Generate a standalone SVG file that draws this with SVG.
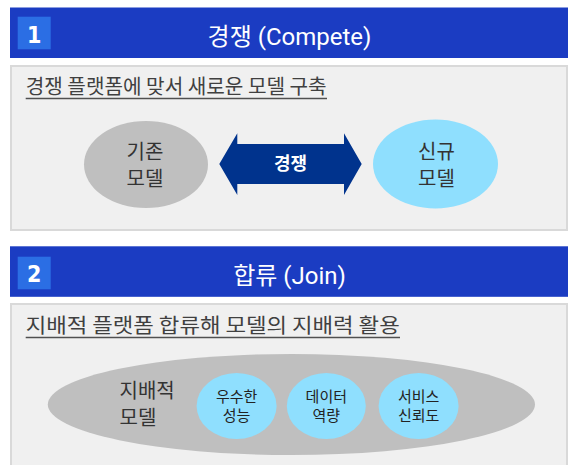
<svg xmlns="http://www.w3.org/2000/svg" width="576" height="465" viewBox="0 0 576 465">
<style>
.bar{fill:#1b3cc2}
.numbox{fill:#2b6ee4}
.num{font-family:"Liberation Sans Narrow","DejaVu Sans Condensed",sans-serif;font-weight:bold;font-size:23px;fill:#fff;text-anchor:middle}
.title{font-family:Roboto,"Noto Sans CJK KR",sans-serif;font-size:24px;fill:#fff;text-anchor:middle}
.panel{fill:#f0f0f0;stroke:#d9d9d9;stroke-width:2}
.sub{font-family:"Noto Sans CJK KR",sans-serif;font-size:20px;fill:#404040}
.ul{stroke:#505050;stroke-width:1.5}
.grey{fill:#bfbfbf}
.blue{fill:#8fdffe}
.lbl{font-family:"Noto Sans CJK KR",sans-serif;font-size:20px;fill:#333;text-anchor:middle}
.lbl2{font-family:"Noto Sans CJK KR",sans-serif;font-size:20px;fill:#333}
.sm{font-family:"Noto Sans CJK KR",sans-serif;font-size:15px;fill:#222;text-anchor:middle}
.arrow{fill:#00338d}
.atext{font-family:"Noto Sans CJK KR",sans-serif;font-size:18px;font-weight:bold;fill:#fff;text-anchor:middle}
</style>

<g id="header1">
  <rect class="bar" x="10" y="7.5" width="558" height="50.5"/>
  <rect class="numbox" x="17.7" y="16.7" width="33" height="32.6"/>
  <text class="num" x="34.2" y="43.3">1</text>
  <text class="title" x="289.5" y="45">경쟁 (Compete)</text>
</g>

<g id="panel1">
  <rect class="panel" x="11" y="66" width="556" height="164"/>
  <text class="sub" x="25.7" y="94" textLength="301" lengthAdjust="spacingAndGlyphs">경쟁 플랫폼에 맞서 새로운 모델 구축</text>
  <line class="ul" x1="25.7" y1="98.5" x2="327" y2="98.5"/>
</g>

<g id="existing-model">
  <ellipse class="grey" cx="146" cy="164.5" rx="62" ry="43.5"/>
  <text class="lbl" x="145" y="159">기존</text>
  <text class="lbl" x="145" y="186">모델</text>
</g>

<g id="new-model">
  <ellipse class="blue" cx="435.5" cy="164" rx="62.5" ry="44.5"/>
  <text class="lbl" x="436.5" y="159">신규</text>
  <text class="lbl" x="436.5" y="186">모델</text>
</g>

<g id="connectors">
  <path class="arrow" d="M219.3,164 L237.3,133.3 L237.3,144 L344,144 L344,133.3 L361.7,164 L344,195 L344,184 L237.3,184 L237.3,195 Z"/>
  <text class="atext" x="290.5" y="170">경쟁</text>
</g>

<g id="header2">
  <rect class="bar" x="10" y="246.3" width="558" height="50.5"/>
  <rect class="numbox" x="17.7" y="256.7" width="33" height="32.6"/>
  <text class="num" x="34.2" y="282.3">2</text>
  <text class="title" x="289.5" y="284">합류 (Join)</text>
</g>

<g id="panel2">
  <rect class="panel" x="11" y="304" width="556" height="172"/>
  <text class="sub" x="25.7" y="333" textLength="374" lengthAdjust="spacingAndGlyphs">지배적 플랫폼 합류해 모델의 지배력 활용</text>
  <line class="ul" x1="25.7" y1="337.5" x2="400" y2="337.5"/>
</g>

<g id="dominant-model">
  <ellipse class="grey" cx="291.4" cy="404.5" rx="243.6" ry="50.5"/>
  <text class="lbl2" x="119.5" y="398">지배적</text>
  <text class="lbl2" x="119.5" y="425">모델</text>
</g>

<g id="performance">
  <ellipse class="blue" cx="236.6" cy="406" rx="40" ry="33"/>
  <text class="sm" x="236.6" y="402">우수한</text>
  <text class="sm" x="236.6" y="421">성능</text>
</g>

<g id="data">
  <ellipse class="blue" cx="326.3" cy="406" rx="39.5" ry="33"/>
  <text class="sm" x="326.3" y="402">데이터</text>
  <text class="sm" x="326.3" y="421">역량</text>
</g>

<g id="trust">
  <ellipse class="blue" cx="418.6" cy="406" rx="40" ry="33"/>
  <text class="sm" x="418.6" y="402">서비스</text>
  <text class="sm" x="418.6" y="421">신뢰도</text>
</g>
</svg>
